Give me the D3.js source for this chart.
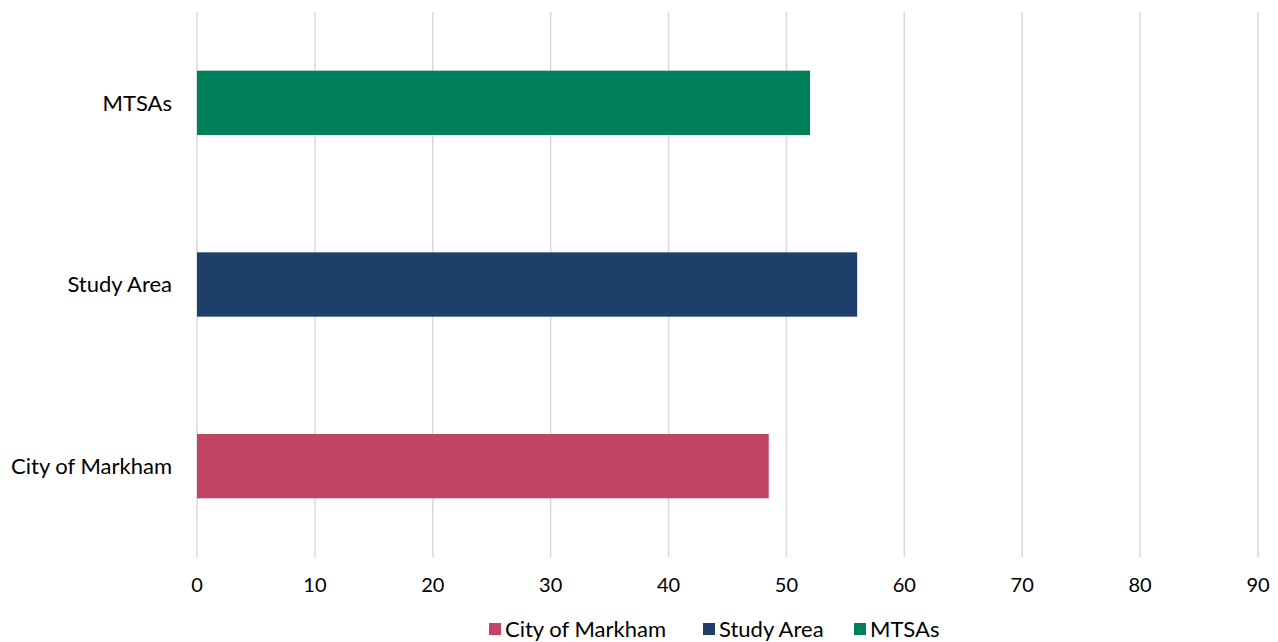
<!DOCTYPE html>
<html>
<head>
<meta charset="utf-8">
<script src="https://cdn.jsdelivr.net/npm/d3@7"></script>
<style>
  body { margin: 0; background: #fff; }
  text { font-family: "Lato", "DejaVu Sans", sans-serif; fill: #000; }
</style>
</head>
<body>
<div id="chart"></div>
<script>
// Chart data
const categories = ["City of Markham", "Study Area", "MTSAs"];
const values = [48.5, 56, 52];
const colors = ["#C34566", "#1D3F6A", "#00805A"];
const xTicks = [0, 10, 20, 30, 40, 50, 60, 70, 80, 90];

const width = 1278;
const height = 642;
const margin = { top: 12, right: 20, bottom: 85, left: 197 };

const svg = d3.select("#chart")
    .append("svg")
    .attr("width", width)
    .attr("height", height);

const x = d3.scaleLinear()
    .domain([0, 90])
    .range([margin.left, 1258]);

// Top of the list is the last category, like Excel
const y = d3.scaleBand()
    .domain(categories.slice().reverse())
    .range([margin.top, height - margin.bottom])
    .paddingInner(0.646)
    .paddingOuter(0.323);

// Vertical gridlines
svg.append("g")
    .selectAll("line")
    .data(xTicks)
    .enter().append("line")
    .attr("x1", d => x(d))
    .attr("x2", d => x(d))
    .attr("y1", margin.top)
    .attr("y2", height - margin.bottom)
    .attr("stroke", "#D9D9D9")
    .attr("stroke-width", 1.5);

// Bars
svg.append("g")
    .selectAll("rect")
    .data(categories)
    .enter().append("rect")
    .attr("x", x(0))
    .attr("y", d => y(d))
    .attr("width", (d, i) => x(values[i]) - x(0))
    .attr("height", y.bandwidth())
    .attr("fill", (d, i) => colors[i]);

// Category labels
svg.append("g")
    .selectAll("text")
    .data(categories)
    .enter().append("text")
    .attr("x", 172)
    .attr("y", d => y(d) + y.bandwidth() / 2)
    .attr("dy", "0.35em")
    .attr("text-anchor", "end")
    .style("font-size", "22px")
    .text(d => d);

// X tick labels
svg.append("g")
    .selectAll("text")
    .data(xTicks)
    .enter().append("text")
    .attr("x", d => x(d))
    .attr("y", 585)
    .attr("dy", "0.35em")
    .attr("text-anchor", "middle")
    .style("font-size", "20px")
    .text(d => d);

// Legend
const legendX = [489, 703, 854];
const legend = svg.append("g")
    .selectAll("g")
    .data(categories)
    .enter().append("g")
    .attr("transform", (d, i) => `translate(${legendX[i]},629)`);

legend.append("rect")
    .attr("x", 0)
    .attr("y", -6)
    .attr("width", 12)
    .attr("height", 12)
    .attr("fill", (d, i) => colors[i]);

legend.append("text")
    .attr("x", 16)
    .attr("y", 0)
    .attr("dy", "0.35em")
    .style("font-size", "22px")
    .text(d => d);
</script>
</body>
</html>
